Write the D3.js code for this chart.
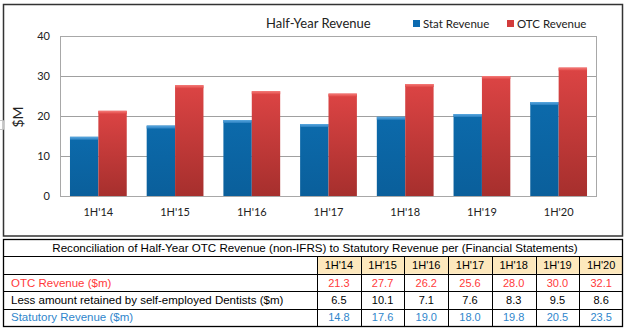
<!DOCTYPE html>
<html>
<head>
<script src="https://d3js.org/d3.v7.min.js"></script>
<style>
  body { margin: 0; background: #fff; }
  svg { display: block; }
</style>
</head>
<body>
<svg width="630" height="331"></svg>
<script>
var categories = ["1H'14", "1H'15", "1H'16", "1H'17", "1H'18", "1H'19", "1H'20"];
var otcRevenue = [21.3, 27.7, 26.2, 25.6, 28.0, 30.0, 32.1];
var retained = [6.5, 10.1, 7.1, 7.6, 8.3, 9.5, 8.6];
var statRevenue = [14.8, 17.6, 19.0, 18.0, 19.8, 20.5, 23.5];
var yTicks = [0, 10, 20, 30, 40];
var seriesNames = ["Stat Revenue", "OTC Revenue"];
var chartTitle = "Half-Year Revenue";
var tableTitle = "Reconciliation of Half-Year OTC Revenue (non-IFRS) to Statutory Revenue per (Financial Statements)";
var rowLabels = ["OTC Revenue ($m)", "Less amount retained by self-employed Dentists ($m)", "Statutory Revenue ($m)"];

var svg = d3.select("svg");
var chartFont = "Lato, 'Open Sans', sans-serif";
var tableFont = "'Liberation Sans', Arial, sans-serif";

/** gradients for the bevelled bars **/
var defs = svg.append("defs");
function vGrad(id, stops) {
  var g = defs.append("linearGradient").attr("id", id)
    .attr("x1", 0).attr("y1", 0).attr("x2", 0).attr("y2", 1);
  stops.forEach(function (s) {
    g.append("stop").attr("offset", s[0]).attr("stop-color", s[1]);
  });
}
vGrad("blueBody", [[0, "#0c6aab"], [1, "#0a5f9b"]]);
vGrad("redBody", [[0, "#dc4444"], [1, "#a62f2d"]]);
vGrad("blueCap", [[0, "#5aa8e0"], [1, "#2a80c0"]]);
vGrad("redCap", [[0, "#f57a78"], [1, "#e04a48"]]);

var colors = {
  "Stat Revenue": { body: "url(#blueBody)", cap: "url(#blueCap)", key: "#0d6bb0" },
  "OTC Revenue": { body: "url(#redBody)", cap: "url(#redCap)", key: "#d23b3b" }
};

/** chart frame **/
svg.append("rect")
  .attr("x", 3.5).attr("y", 4.5)
  .attr("width", 619).attr("height", 231.5)
  .attr("fill", "#fff").attr("stroke", "#333").attr("stroke-width", 1.5);

svg.append("path")
  .attr("d", "M0,120.5H3.5V129.5H0")
  .attr("fill", "none").attr("stroke", "#c4c4c4");

var plot = { left: 60, top: 36, right: 597, bottom: 196 };

var x = d3.scaleBand().domain(categories)
  .range([plot.left, plot.right])
  .paddingInner(0.26).paddingOuter(0.13);
var xs = d3.scaleBand().domain(seriesNames).range([0, x.bandwidth()]);
var y = d3.scaleLinear().domain([0, 40]).range([plot.bottom, plot.top]);

var g = svg.append("g");

// gridlines and plot box
g.append("g")
  .attr("transform", "translate(" + plot.left + ",0)")
  .call(d3.axisLeft(y).tickValues(yTicks).tickSize(-(plot.right - plot.left)).tickFormat(""))
  .call(function (a) {
    a.select(".domain").remove();
    a.selectAll("line").attr("stroke", "#a0a0a0");
  });
g.append("rect")
  .attr("x", plot.left + 0.5).attr("y", plot.top + 0.5)
  .attr("width", plot.right - plot.left - 1).attr("height", plot.bottom - plot.top)
  .attr("fill", "none").attr("stroke", "#a8a8a8");

// y tick labels
g.append("g")
  .attr("transform", "translate(" + plot.left + ",0)")
  .call(d3.axisLeft(y).tickValues(yTicks).tickSize(0).tickPadding(10))
  .call(function (a) {
    a.select(".domain").remove();
    a.selectAll("text").style("font-family", chartFont).style("font-size", "11px").attr("fill", "#222");
  });

// x tick labels
g.append("g")
  .attr("transform", "translate(0," + plot.bottom + ")")
  .call(d3.axisBottom(x).tickSize(0).tickPadding(12))
  .call(function (a) {
    a.select(".domain").remove();
    a.selectAll("text").style("font-family", chartFont).style("font-size", "11px").attr("fill", "#222");
  });

// bars
var barData = [];
categories.forEach(function (c, i) {
  barData.push({ cat: c, series: "Stat Revenue", value: statRevenue[i] });
  barData.push({ cat: c, series: "OTC Revenue", value: otcRevenue[i] });
});

var bars = g.selectAll(".bar").data(barData).enter().append("g").attr("class", "bar");
bars.append("rect")
  .attr("x", function (d) { return x(d.cat) + xs(d.series); })
  .attr("y", function (d) { return y(d.value); })
  .attr("width", xs.bandwidth())
  .attr("height", function (d) { return y(0) - y(d.value); })
  .attr("fill", function (d) { return colors[d.series].body; });
bars.append("rect")
  .attr("x", function (d) { return x(d.cat) + xs(d.series); })
  .attr("y", function (d) { return y(d.value); })
  .attr("width", xs.bandwidth())
  .attr("height", 3)
  .attr("fill", function (d) { return colors[d.series].cap; });

// titles
svg.append("text")
  .attr("x", 266).attr("y", 28)
  .style("font-family", chartFont).style("font-size", "13px").attr("fill", "#222")
  .text(chartTitle);

svg.append("text")
  .attr("transform", "translate(23,117) rotate(-90)")
  .attr("text-anchor", "middle")
  .style("font-family", chartFont).style("font-size", "14px").attr("fill", "#222")
  .text("$M");

// legend
var legendX = [413, 507];
var legend = svg.selectAll(".key").data(seriesNames).enter().append("g")
  .attr("class", "key")
  .attr("transform", function (d, i) { return "translate(" + legendX[i] + ",20)"; });
legend.append("rect")
  .attr("width", 7).attr("height", 7)
  .attr("fill", function (d) { return colors[d].key; });
legend.append("text")
  .attr("x", 10).attr("y", 7.5)
  .style("font-family", chartFont).style("font-size", "11.5px").attr("fill", "#222")
  .text(function (d) { return d; });

/** reconciliation table **/
var table = { left: 3, right: 623, labelRight: 317 };
var rows = d3.scaleBand().domain(["title", "head", "otc", "less", "stat"]).range([239, 326]);
var cols = d3.scaleBand().domain(categories).range([table.labelRight, table.right]);

var t = svg.append("g");

// header fill
t.selectAll(".head").data(categories).enter().append("rect")
  .attr("x", function (d) { return cols(d); })
  .attr("y", rows("head"))
  .attr("width", cols.bandwidth()).attr("height", rows.bandwidth())
  .attr("fill", "#fde8bd");

// grid lines
var hLines = ["head", "otc", "less", "stat"];
t.selectAll(".hl").data(hLines).enter().append("line")
  .attr("x1", table.left).attr("x2", table.right)
  .attr("y1", function (d) { return Math.round(rows(d)) + 0.5; })
  .attr("y2", function (d) { return Math.round(rows(d)) + 0.5; })
  .attr("stroke", "#000");
t.selectAll(".vl").data(categories).enter().append("line")
  .attr("x1", function (d) { return Math.round(cols(d)) + 0.5; })
  .attr("x2", function (d) { return Math.round(cols(d)) + 0.5; })
  .attr("y1", rows("head")).attr("y2", 326)
  .attr("stroke", "#000");
t.append("rect")
  .attr("x", table.left + 0.5).attr("y", 239.5)
  .attr("width", table.right - table.left - 1).attr("height", 326 - 239)
  .attr("fill", "none").attr("stroke", "#000").attr("stroke-width", 1.3);

// table text
t.append("text")
  .attr("x", (table.left + table.right) / 2 + 2)
  .attr("y", rows("title") + rows.bandwidth() / 2 + 4)
  .attr("text-anchor", "middle")
  .style("font-family", tableFont).style("font-size", "11.6px").attr("fill", "#000")
  .text(tableTitle);

t.selectAll(".hd").data(categories).enter().append("text")
  .attr("x", function (d) { return cols(d) + cols.bandwidth() / 2; })
  .attr("y", rows("head") + rows.bandwidth() / 2 + 4)
  .attr("text-anchor", "middle")
  .style("font-family", tableFont).style("font-size", "11px").attr("fill", "#000")
  .text(function (d) { return d; });

var tableRows = [
  { key: "otc", label: rowLabels[0], values: otcRevenue, color: "#ff3a3a" },
  { key: "less", label: rowLabels[1], values: retained, color: "#000" },
  { key: "stat", label: rowLabels[2], values: statRevenue, color: "#2f86cc" }
];

tableRows.forEach(function (r) {
  var cy = rows(r.key) + rows.bandwidth() / 2 + 4;
  t.append("text")
    .attr("x", 11).attr("y", cy)
    .style("font-family", tableFont).style("font-size", "11.5px").attr("fill", r.color)
    .text(r.label);
  t.selectAll(".v-" + r.key).data(r.values).enter().append("text")
    .attr("x", function (d, i) { return cols(categories[i]) + cols.bandwidth() / 2; })
    .attr("y", cy)
    .attr("text-anchor", "middle")
    .style("font-family", tableFont).style("font-size", "11px").attr("fill", r.color)
    .text(function (d) { return d.toFixed(1); });
});
</script>
</body>
</html>
